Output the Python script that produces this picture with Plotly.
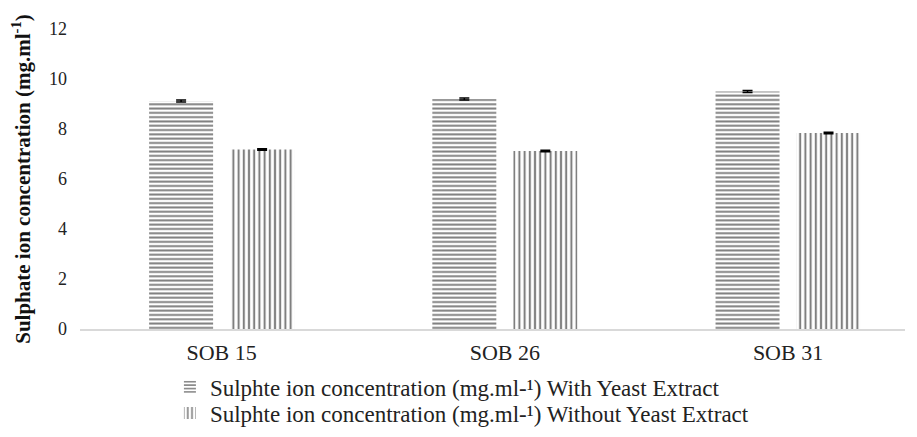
import plotly.graph_objects as go

categories = ["SOB 15", "SOB 26", "SOB 31"]
with_ye = [9.12, 9.20, 9.50]
with_ye_err = [0.04, 0.04, 0.04]
without_ye = [7.18, 7.12, 7.84]
without_ye_err = [0.03, 0.03, 0.03]
yticks = [0, 2, 4, 6, 8, 10, 12]

font = "Liberation Serif"

fig = go.Figure()
fig.add_trace(go.Bar(
    x=categories, y=with_ye,
    name="Sulphte ion concentration (mg.ml-¹) With Yeast Extract",
    legend="legend",
    marker=dict(color="white", line=dict(width=0),
                pattern=dict(shape="-", fgcolor="black", bgcolor="white", size=4.3, solidity=0.45)),
    error_y=dict(type="data", array=with_ye_err, color="black", thickness=1.5, width=5),
))
fig.add_trace(go.Bar(
    x=categories, y=without_ye,
    name="Sulphte ion concentration (mg.ml-¹) Without Yeast Extract",
    legend="legend2",
    marker=dict(color="white", line=dict(width=0),
                pattern=dict(shape="|", fgcolor="black", bgcolor="white", size=5.2, solidity=0.4)),
    error_y=dict(type="data", array=without_ye_err, color="black", thickness=1.5, width=5),
))

legend_font = dict(family=font, size=23, color="#222")

fig.update_layout(
    width=917, height=437,
    margin=dict(l=80, r=12, t=29, b=108, autoexpand=False),
    paper_bgcolor="white", plot_bgcolor="white",
    font=dict(family=font, size=20, color="#222"),
    barmode="group", bargap=0.428, bargroupgap=0.21,
    showlegend=True,
    legend=dict(x=0.109, xanchor="left", y=-0.193, yanchor="middle",
                font=legend_font, itemwidth=30, bgcolor="rgba(0,0,0,0)"),
    legend2=dict(x=0.109, xanchor="left", y=-0.28, yanchor="middle",
                 font=legend_font, itemwidth=30, bgcolor="rgba(0,0,0,0)"),
    xaxis=dict(range=[-0.5, 2.413], showline=True, linecolor="#d9d9d9", linewidth=1.5,
               ticks="", showgrid=False, ticklabelstandoff=3,
               tickfont=dict(family=font, size=22, color="#222")),
    yaxis=dict(range=[0, 12], tickvals=yticks, showgrid=False, zeroline=False, showline=False,
               ticks="", ticklabelstandoff=12, tickfont=dict(family=font, size=18, color="#222"),
               title=dict(text="<b>Sulphate ion concentration (mg.ml<sup>-1</sup>)</b>",
                          font=dict(family=font, size=21, color="#111"), standoff=12)),
)

fig.write_html("out.html")
